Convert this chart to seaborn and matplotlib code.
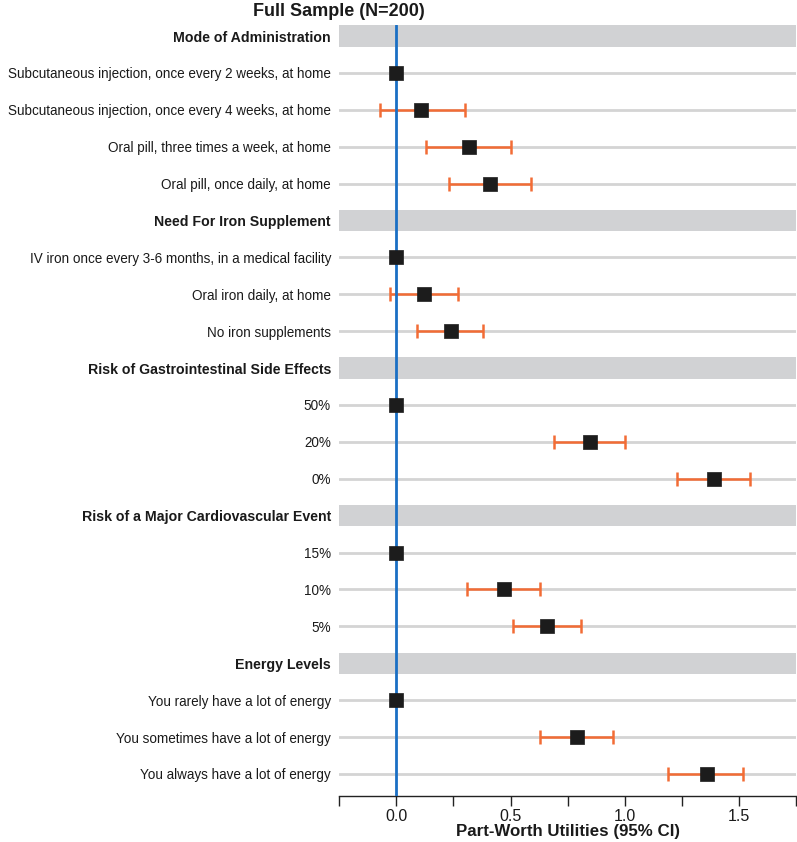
import matplotlib
matplotlib.use("Agg")
import matplotlib.pyplot as plt
import seaborn as sns
import pandas as pd
import numpy as np

# rows from top to bottom; headers have no estimate
labels = [
    "Mode of Administration",
    "Subcutaneous injection, once every 2 weeks, at home",
    "Subcutaneous injection, once every 4 weeks, at home",
    "Oral pill, three times a week, at home",
    "Oral pill, once daily, at home",
    "Need For Iron Supplement",
    "IV iron once every 3-6 months, in a medical facility",
    "Oral iron daily, at home",
    "No iron supplements",
    "Risk of Gastrointestinal Side Effects",
    "50%",
    "20%",
    "0%",
    "Risk of a Major Cardiovascular Event",
    "15%",
    "10%",
    "5%",
    "Energy Levels",
    "You rarely have a lot of energy",
    "You sometimes have a lot of energy",
    "You always have a lot of energy",
]
is_header = [True, False, False, False, False,
             True, False, False, False,
             True, False, False, False,
             True, False, False, False,
             True, False, False, False]
estimate = [None, 0.0, 0.11, 0.32, 0.41,
            None, 0.0, 0.12, 0.24,
            None, 0.0, 0.85, 1.39,
            None, 0.0, 0.47, 0.66,
            None, 0.0, 0.79, 1.36]
ci_low = [None, None, -0.07, 0.13, 0.23,
          None, None, -0.03, 0.09,
          None, None, 0.69, 1.23,
          None, None, 0.31, 0.51,
          None, None, 0.63, 1.19]
ci_high = [None, None, 0.30, 0.50, 0.59,
           None, None, 0.27, 0.38,
           None, None, 1.00, 1.55,
           None, None, 0.63, 0.81,
           None, None, 0.95, 1.52]

df = pd.DataFrame({"label": labels, "header": is_header, "est": estimate,
                   "lo": ci_low, "hi": ci_high})
df["pos"] = np.arange(len(df))

sns.set_theme(style="white")
plt.rcParams["font.family"] = ["Liberation Sans", "DejaVu Sans"]

fig = plt.figure(figsize=(7.97, 8.42), dpi=100)
ax = fig.add_axes([0.4257, 0.0546, 0.573, 0.9157])

for _, r in df.iterrows():
    if r["header"]:
        ax.axhspan(r["pos"] - 0.29, r["pos"] + 0.29, color="#d1d2d4", lw=0, zorder=0)
    else:
        ax.axhline(r["pos"], color="#d4d4d4", lw=2, zorder=0)

ci = df.dropna(subset=["lo"])
ax.errorbar(x=ci["est"], y=ci["pos"],
            xerr=[ci["est"] - ci["lo"], ci["hi"] - ci["est"]],
            fmt="none", ecolor="#f26c35", elinewidth=1.8, capsize=4.8,
            capthick=1.8, zorder=2)

ax.axvline(0, color="#1a6fc4", lw=2, zorder=3)

pts = df.dropna(subset=["est"])
sns.scatterplot(data=pts, x="est", y="pos", marker="s", s=90, color="#1c1c1c",
                edgecolor="#1c1c1c", linewidth=0.5, zorder=4, ax=ax, legend=False)

ax.set_xlim(-0.25, 1.75)
ax.set_ylim(20.6, -0.3)
ax.set_yticks(df["pos"])
ax.set_yticklabels(df["label"], fontsize=9.75, color="#1a1a1a")
for t, h in zip(ax.get_yticklabels(), df["header"]):
    if h:
        t.set_fontweight("bold")
        t.set_fontsize(10.2)
ax.tick_params(axis="y", length=0, pad=6)

xt = np.arange(-0.25, 1.76, 0.25)
ax.set_xticks(xt)
ax.set_xticklabels(["" if abs(v * 2 - round(v * 2)) > 1e-6 else f"{v:.1f}" for v in xt],
                   fontsize=11.5, color="#1a1a1a")
ax.tick_params(axis="x", direction="out", length=7, width=1, color="#222222", pad=2,
               bottom=True)

sns.despine(ax=ax, left=True, top=True, right=True)
ax.spines["bottom"].set_color("#222222")
ax.spines["bottom"].set_linewidth(1)

ax.set_xlabel("Part-Worth Utilities (95% CI)", fontsize=12.2, fontweight="bold",
              color="#1a1a1a", labelpad=0)
ax.set_ylabel("")

fig.text(339 / 797, 1 - 11 / 842, "Full Sample (N=200)", ha="center", va="center",
         fontsize=13, fontweight="bold", color="#1a1a1a")

fig.savefig("out.png", dpi=100)
